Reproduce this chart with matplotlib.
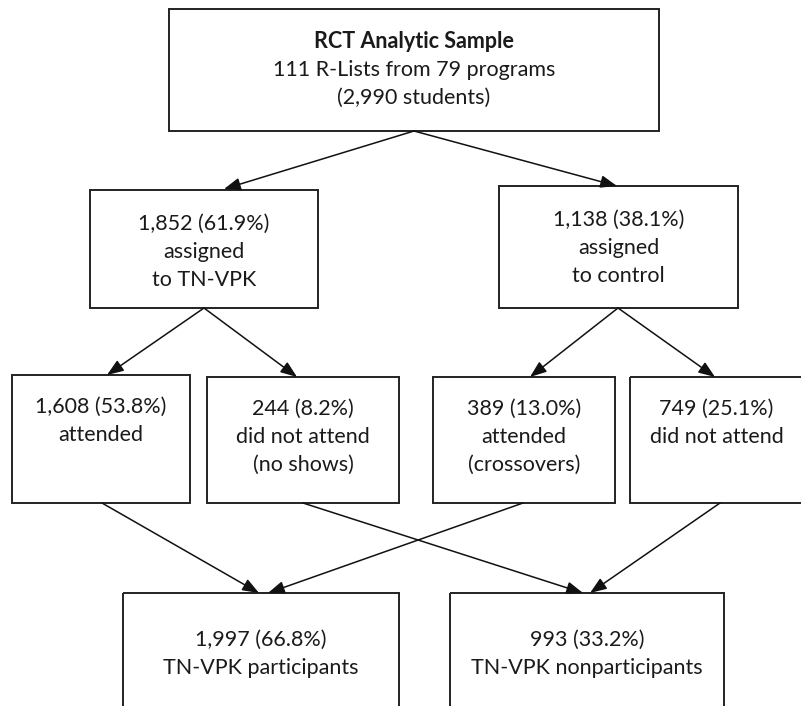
import matplotlib.pyplot as plt
from matplotlib.patches import Rectangle

# box texts (first line of the top box is the bold title)
top_title = "RCT Analytic Sample"
top_lines = ["111 R-Lists from 79 programs", "(2,990 students)"]
assign_labels = [
    ["1,852 (61.9%)", "assigned", "to TN-VPK"],
    ["1,138 (38.1%)", "assigned", "to control"],
]
attend_labels = [
    ["1,608 (53.8%)", "attended"],
    ["244 (8.2%)", "did not attend", "(no shows)"],
    ["389 (13.0%)", "attended", "(crossovers)"],
    ["749 (25.1%)", "did not attend"],
]
final_labels = [
    ["1,997 (66.8%)", "TN-VPK participants"],
    ["993 (33.2%)", "TN-VPK nonparticipants"],
]

# layout in pixel coordinates (x0, x1, y0, y1), y measured from top
top_box = (169, 659, 9, 131)
assign_boxes = [(90, 318, 190, 308), (499, 738, 186, 308)]
attend_boxes = [(12, 190, 375, 503), (207, 399, 377, 503),
                (433, 615, 377, 503), (630, 803, 377, 503)]
final_boxes = [(123, 399, 593, 720), (450, 724, 593, 720)]

# arrow connections: (start, end)
arrows = [
    ((414, 131), (224, 189)), ((414, 131), (617, 186)),
    ((204, 308), (107, 375)), ((204, 308), (297, 377)),
    ((618, 308), (530, 377)), ((618, 308), (715, 377)),
    ((102, 503), (259, 593)), ((303, 503), (583, 593)),
    ((523, 503), (268, 593)), ((720, 503), (590, 593)),
]

FONT = "Lato"
FS = 15.5
LINE = 28

fig = plt.figure(figsize=(8.01, 7.06), dpi=100)
ax = fig.add_axes([0, 0, 1, 1])
ax.set_xlim(0, 801)
ax.set_ylim(706, 0)
ax.axis("off")


def draw_box(b):
    x0, x1, y0, y1 = b
    ax.add_patch(Rectangle((x0, y0), x1 - x0, y1 - y0, fill=False,
                           edgecolor="#222222", linewidth=1.4))


def draw_lines(b, lines, y_first, bold_first=False):
    cx = (b[0] + b[1]) / 2
    for i, s in enumerate(lines):
        ax.text(cx, y_first + i * LINE, s, ha="center", va="center",
                fontsize=FS, family=FONT, color="#1a1a1a",
                fontweight="bold" if (bold_first and i == 0) else "normal")


draw_box(top_box)
draw_lines(top_box, [top_title] + top_lines, 42, bold_first=True)

for b, lab in zip(assign_boxes, assign_labels):
    draw_box(b)
    draw_lines(b, lab, b[2] + 34)

for b, lab in zip(attend_boxes, attend_labels):
    draw_box(b)
    draw_lines(b, lab, b[2] + 32)

for b, lab in zip(final_boxes, final_labels):
    draw_box(b)
    draw_lines(b, lab, 640)

for (s, e) in arrows:
    ax.annotate("", xy=e, xytext=s,
                arrowprops=dict(arrowstyle="-|>,head_length=1.0,head_width=0.38",
                                color="#111111", lw=1.1,
                                shrinkA=0, shrinkB=0))

fig.savefig("out.png", dpi=100)
